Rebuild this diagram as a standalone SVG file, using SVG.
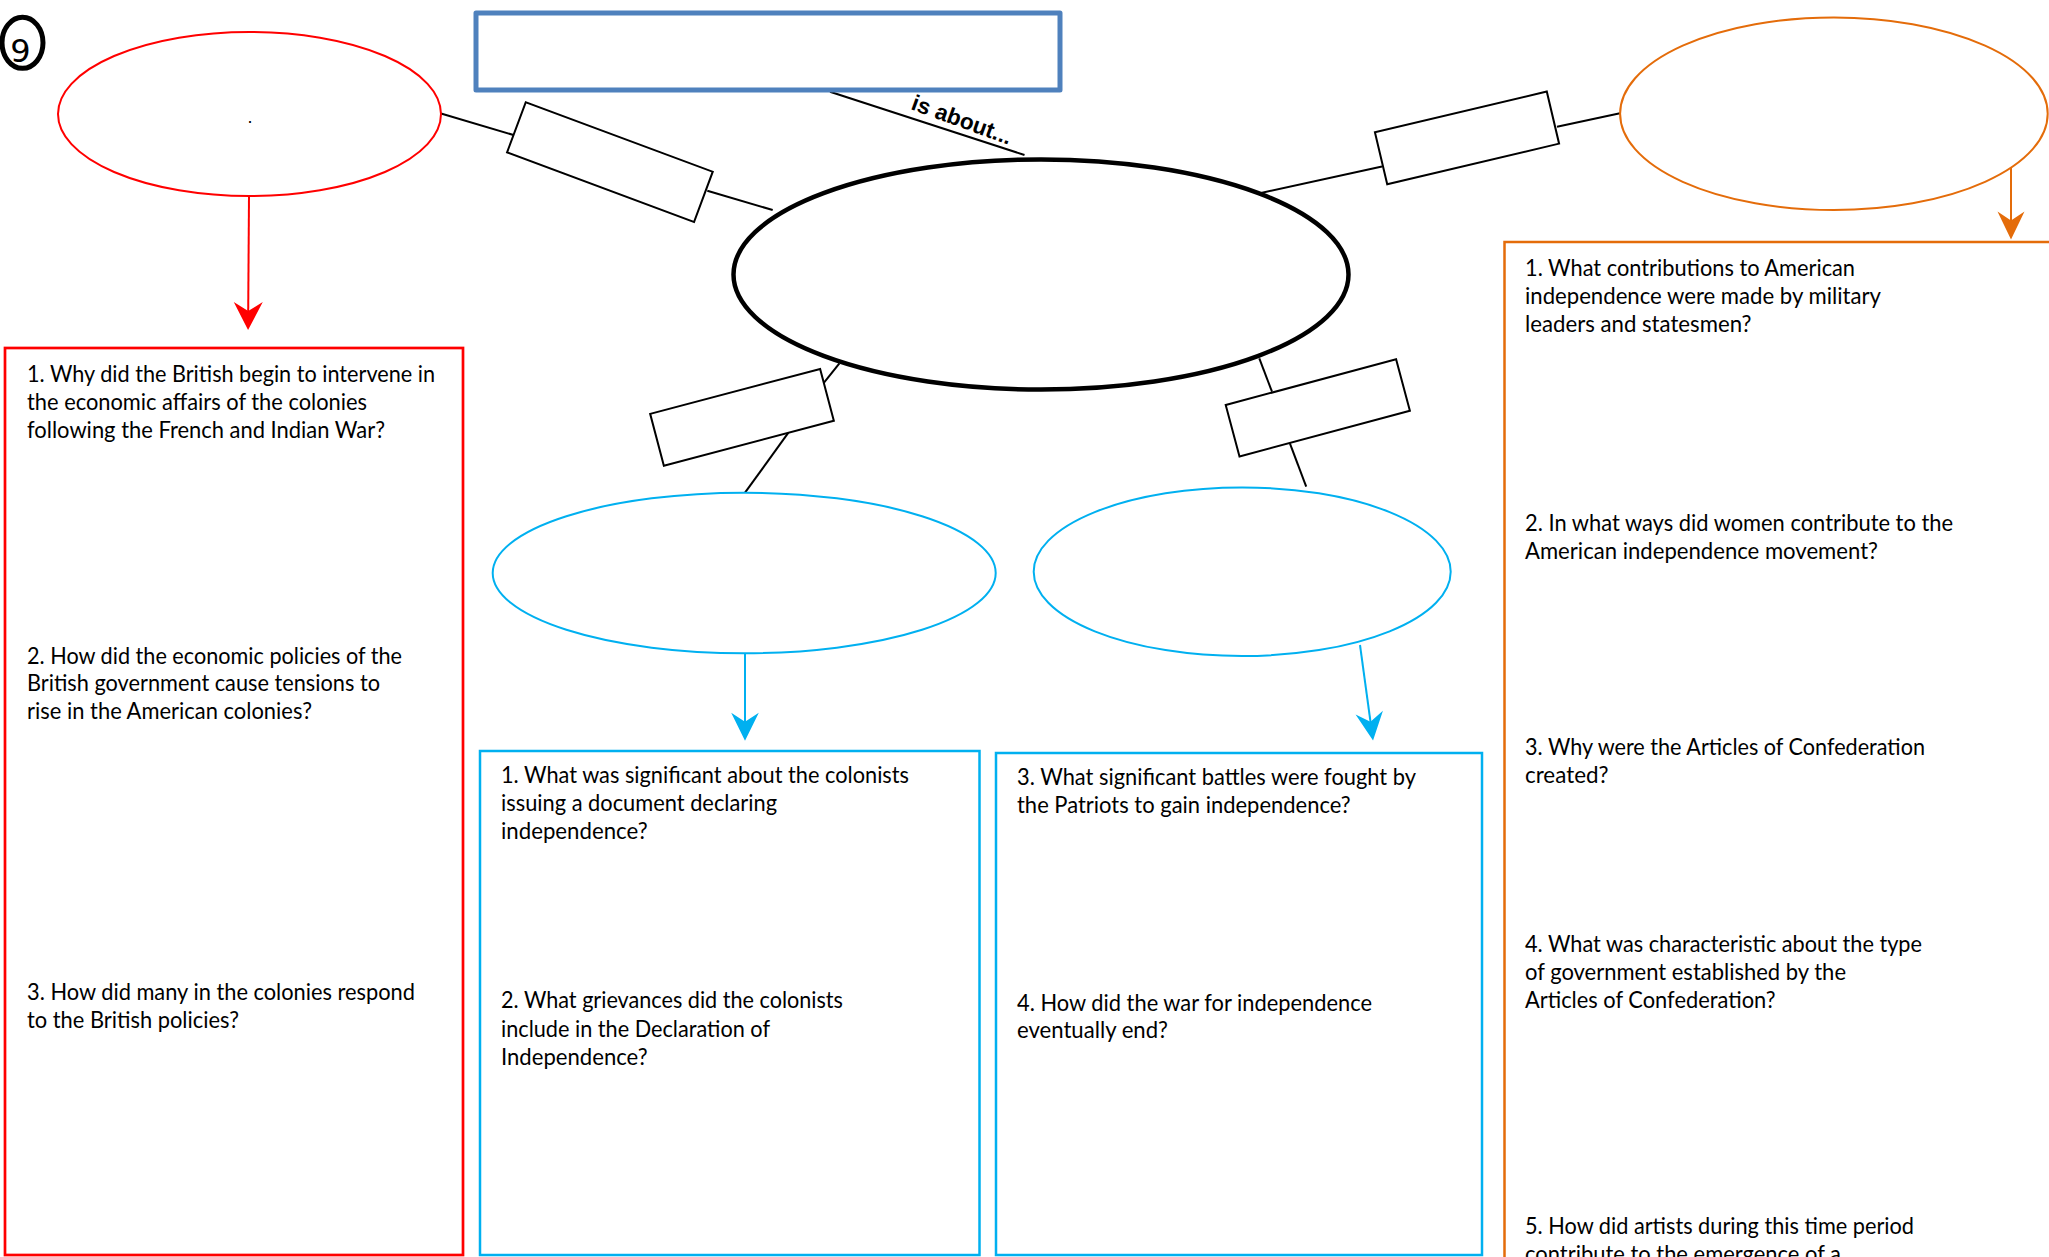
<svg xmlns="http://www.w3.org/2000/svg" width="2049" height="1257" viewBox="0 0 2049 1257">
<style>
.q{font-family:Lato,"Open Sans","Liberation Sans",sans-serif;font-size:22.5px;fill:#000}
.lk{fill:#fff;stroke:#000;stroke-width:2}
.cn{stroke:#000;stroke-width:2;fill:none}
</style>
<defs>
<marker id="ah-red" markerUnits="userSpaceOnUse" markerWidth="30" markerHeight="30" viewBox="0 0 28 30" refX="24" refY="15" orient="auto"><path d="M0,0.5 L28,15 L0,29.5 L9,15 Z" fill="#FF0000"/></marker>
<marker id="ah-blue" markerUnits="userSpaceOnUse" markerWidth="30" markerHeight="30" viewBox="0 0 28 30" refX="24" refY="15" orient="auto"><path d="M0,1.2 L28,15 L0,28.8 L9,15 Z" fill="#00B0F0"/></marker>
<marker id="ah-orange" markerUnits="userSpaceOnUse" markerWidth="30" markerHeight="30" viewBox="0 0 28 30" refX="24" refY="15" orient="auto"><path d="M0,1.5 L28,15 L0,28.5 L9,15 Z" fill="#E46C0A"/></marker>
</defs>
<rect width="2049" height="1257" fill="#fff"/>

<g id="number-badge">
<ellipse cx="22.5" cy="42.8" rx="20.5" ry="25.5" fill="none" stroke="#000" stroke-width="5"/>
<text x="20.5" y="61.5" font-family="DejaVu Sans,sans-serif" font-size="32" text-anchor="middle">9</text>
</g>

<g id="connectors">
<line class="cn" x1="441" y1="113.5" x2="513.5" y2="135"/>
<line class="cn" x1="707.3" y1="190.7" x2="772.7" y2="210"/>
<line class="cn" x1="1261" y1="193" x2="1382" y2="166.5"/>
<line class="cn" x1="1557" y1="126.7" x2="1620" y2="113.3"/>
<line class="cn" x1="839.4" y1="363.3" x2="824" y2="382.7"/>
<line class="cn" x1="788.4" y1="432.7" x2="745" y2="492.7"/>
<line class="cn" x1="1259.3" y1="358.3" x2="1272" y2="391.7"/>
<line class="cn" x1="1289.9" y1="443.3" x2="1306.2" y2="486.7"/>
<line class="cn" x1="830" y1="91.7" x2="1024.5" y2="155"/>
<text x="0" y="0" transform="translate(910,109) rotate(20)" font-family="Liberation Sans,Arial,sans-serif" font-weight="bold" font-size="22.5">is about...</text>
<line x1="249" y1="196" x2="248.1" y2="326" stroke="#FF0000" stroke-width="2" marker-end="url(#ah-red)"/>
<line x1="745" y1="653.3" x2="745" y2="736.7" stroke="#00B0F0" stroke-width="2" marker-end="url(#ah-blue)"/>
<line x1="1360" y1="645" x2="1372.5" y2="736.5" stroke="#00B0F0" stroke-width="2" marker-end="url(#ah-blue)"/>
<line x1="2011" y1="168" x2="2011" y2="235.5" stroke="#E46C0A" stroke-width="2" marker-end="url(#ah-orange)"/>
</g>

<g id="title-box">
<rect x="476" y="13" width="584" height="77" fill="#fff" stroke="#4F81BD" stroke-width="5" stroke-linejoin="round"/>
</g>

<g id="central-topic">
<ellipse cx="1041" cy="274.5" rx="307.5" ry="115" fill="#fff" stroke="#000" stroke-width="4.5"/>
</g>

<g id="link-left"><rect class="lk" x="-99.75" y="-26.8" width="199.5" height="53.6" transform="translate(609.9,162.1) rotate(20.4)"/></g>
<g id="link-right"><rect class="lk" x="-88.3" y="-26.75" width="176.6" height="53.5" transform="translate(1467,137.9) rotate(-13.3)"/></g>
<g id="link-lower-left"><rect class="lk" x="-87.9" y="-26.8" width="175.8" height="53.6" transform="translate(742,417.3) rotate(-14.8)"/></g>
<g id="link-lower-right"><rect class="lk" x="-88.2" y="-26.65" width="176.4" height="53.3" transform="translate(1317.8,407.9) rotate(-15)"/></g>

<g id="topic-red">
<ellipse cx="249.5" cy="114" rx="191.5" ry="82" fill="#fff" stroke="#FF0000" stroke-width="2"/>
<text x="247.5" y="122.5" font-family="Liberation Sans,sans-serif" font-size="18">.</text>
</g>

<g id="topic-orange">
<ellipse cx="1833.9" cy="113.7" rx="213.8" ry="96.3" fill="#fff" stroke="#E46C0A" stroke-width="2"/>
</g>

<g id="topic-blue-left">
<ellipse cx="744.2" cy="573" rx="251.5" ry="80.3" fill="#fff" stroke="#00B0F0" stroke-width="2"/>
</g>

<g id="topic-blue-right">
<ellipse cx="1242.2" cy="571.7" rx="208.5" ry="84.3" fill="#fff" stroke="#00B0F0" stroke-width="2"/>
</g>

<g id="questions-red">
<rect x="5" y="348" width="458" height="907" fill="#fff" stroke="#FF0000" stroke-width="2.7"/>
<text class="q" x="27" y="381.7" textLength="408" lengthAdjust="spacingAndGlyphs">1. Why did the British begin to intervene in</text>
<text class="q" x="27" y="410" textLength="340" lengthAdjust="spacingAndGlyphs">the economic affairs of the colonies</text>
<text class="q" x="27" y="437.5" textLength="358" lengthAdjust="spacingAndGlyphs">following the French and Indian War?</text>
<text class="q" x="27" y="663.5" textLength="375" lengthAdjust="spacingAndGlyphs">2. How did the economic policies of the</text>
<text class="q" x="27" y="691" textLength="353" lengthAdjust="spacingAndGlyphs">British government cause tensions to</text>
<text class="q" x="27" y="719" textLength="285" lengthAdjust="spacingAndGlyphs">rise in the American colonies?</text>
<text class="q" x="27" y="1000" textLength="388" lengthAdjust="spacingAndGlyphs">3. How did many in the colonies respond</text>
<text class="q" x="27" y="1028" textLength="212" lengthAdjust="spacingAndGlyphs">to the British policies?</text>
</g>

<g id="questions-blue-left">
<rect x="480" y="751" width="499.5" height="504" fill="#fff" stroke="#00B0F0" stroke-width="2.5"/>
<text class="q" x="501" y="782.7" textLength="408" lengthAdjust="spacingAndGlyphs">1. What was significant about the colonists</text>
<text class="q" x="501" y="810.7" textLength="276" lengthAdjust="spacingAndGlyphs">issuing a document declaring</text>
<text class="q" x="501" y="838.7" textLength="146.6" lengthAdjust="spacingAndGlyphs">independence?</text>
<text class="q" x="501" y="1008.3" textLength="342" lengthAdjust="spacingAndGlyphs">2. What grievances did the colonists</text>
<text class="q" x="501" y="1036.7" textLength="269" lengthAdjust="spacingAndGlyphs">include in the Declaration of</text>
<text class="q" x="501" y="1065" textLength="146.6" lengthAdjust="spacingAndGlyphs">Independence?</text>
</g>

<g id="questions-blue-right">
<rect x="996" y="753" width="486" height="502" fill="#fff" stroke="#00B0F0" stroke-width="2.5"/>
<text class="q" x="1017" y="785" textLength="399" lengthAdjust="spacingAndGlyphs">3. What significant battles were fought by</text>
<text class="q" x="1017" y="812.7" textLength="333.6" lengthAdjust="spacingAndGlyphs">the Patriots to gain independence?</text>
<text class="q" x="1017" y="1010.7" textLength="355" lengthAdjust="spacingAndGlyphs">4. How did the war for independence</text>
<text class="q" x="1017" y="1038.3" textLength="151" lengthAdjust="spacingAndGlyphs">eventually end?</text>
</g>

<g id="questions-orange">
<rect x="1504.5" y="242" width="600" height="1100" fill="#fff" stroke="#E46C0A" stroke-width="2.5"/>
<text class="q" x="1525" y="276" textLength="330" lengthAdjust="spacingAndGlyphs">1. What contributions to American</text>
<text class="q" x="1525" y="304" textLength="356" lengthAdjust="spacingAndGlyphs">independence were made by military</text>
<text class="q" x="1525" y="332" textLength="226.5" lengthAdjust="spacingAndGlyphs">leaders and statesmen?</text>
<text class="q" x="1525" y="530.5" textLength="428" lengthAdjust="spacingAndGlyphs">2. In what ways did women contribute to the</text>
<text class="q" x="1525" y="558.5" textLength="353" lengthAdjust="spacingAndGlyphs">American independence movement?</text>
<text class="q" x="1525" y="755" textLength="400" lengthAdjust="spacingAndGlyphs">3. Why were the Articles of Confederation</text>
<text class="q" x="1525" y="783" textLength="83.5" lengthAdjust="spacingAndGlyphs">created?</text>
<text class="q" x="1525" y="952" textLength="397" lengthAdjust="spacingAndGlyphs">4. What was characteristic about the type</text>
<text class="q" x="1525" y="980" textLength="321" lengthAdjust="spacingAndGlyphs">of government established by the</text>
<text class="q" x="1525" y="1008" textLength="250.5" lengthAdjust="spacingAndGlyphs">Articles of Confederation?</text>
<text class="q" x="1525" y="1233.5" textLength="389" lengthAdjust="spacingAndGlyphs">5. How did artists during this time period</text>
<text class="q" x="1525" y="1261.5" textLength="316" lengthAdjust="spacingAndGlyphs">contribute to the emergence of a</text>
</g>
</svg>
